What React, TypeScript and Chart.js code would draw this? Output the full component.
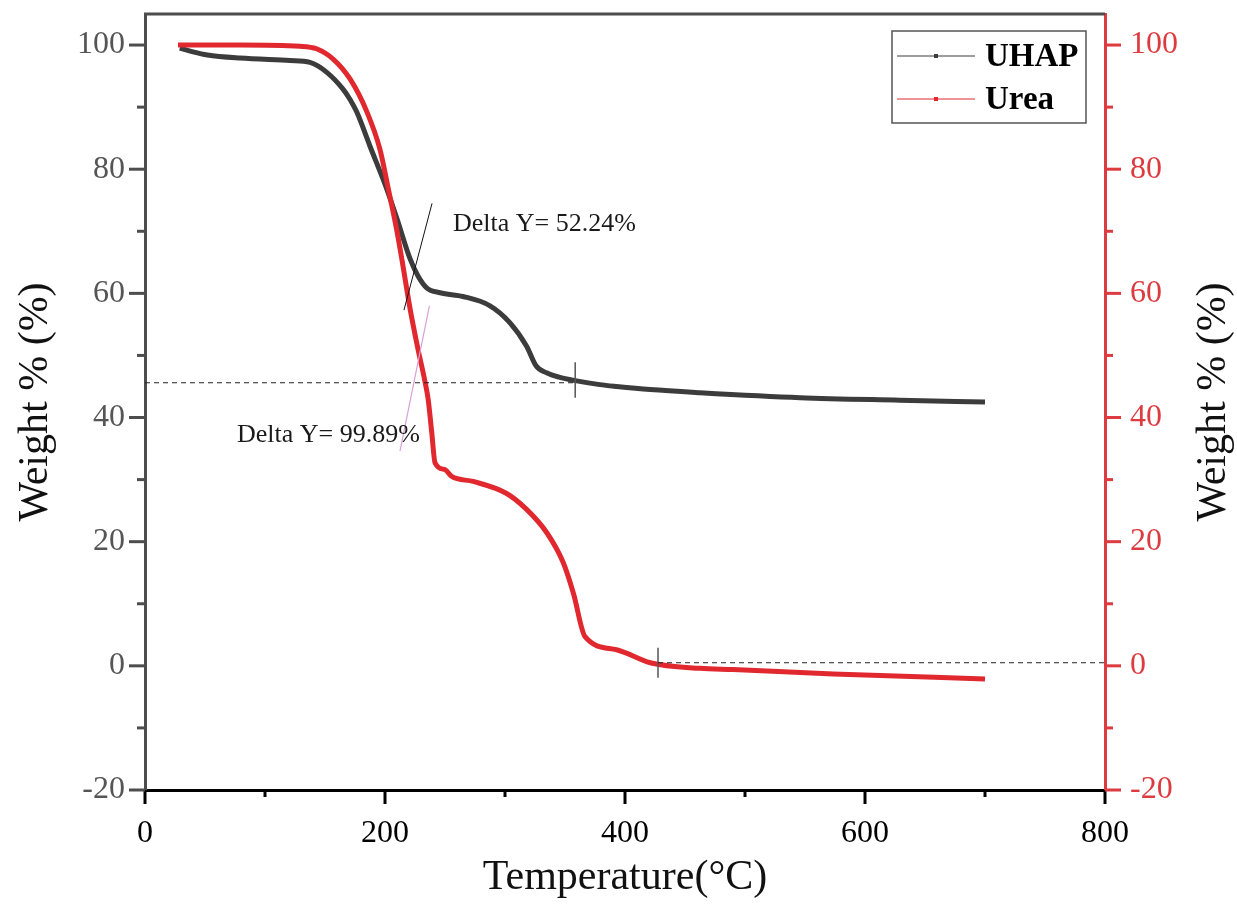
import React, { useEffect, useRef } from "react";
import { Chart, registerables } from "chart.js";
Chart.register(...registerables);

// ---- data ----
const uhapTemp = [29, 40, 52, 79, 121, 137.5, 151.5, 165, 171, 176.5, 187.5, 201.5, 210, 221, 227.5, 234.7, 246, 265, 287.5, 304, 318, 326, 334.7, 345, 359.7, 379, 393, 421, 462.5, 546, 629, 700];
const uhapWeight = [99.5, 98.9, 98.4, 97.9, 97.5, 97.2, 95.6, 92.9, 91.2, 89.2, 83.7, 76.8, 72, 65.5, 62.8, 60.9, 60.1, 59.5, 58, 55.3, 51.5, 48.3, 47.2, 46.5, 45.9, 45.3, 45.0, 44.5, 44.0, 43.2, 42.8, 42.5];
const ureaTemp = [27.5, 79, 129, 143, 157, 171, 185, 195.8, 202.8, 209.7, 215, 221, 227.5, 233, 236, 239, 241.7, 250, 255.6, 273.6, 301, 318, 335, 348.6, 357, 366.7, 393, 421, 462.5, 490, 573.6, 700];
const ureaWeight = [100, 100, 99.8, 99.4, 97.7, 94.5, 89.2, 83.2, 76.8, 70.3, 64.4, 57.4, 51, 46.1, 42.9, 37.5, 32.7, 31.6, 30.5, 29.7, 27.8, 25.2, 21.4, 16.6, 11.7, 4.7, 2.6, 0.5, -0.4, -0.6, -1.3, -2.1];

const seriesNames = ["UHAP", "Urea"];
const xTicks = [0, 200, 400, 600, 800];
const xMinorTicks = [100, 300, 500, 700];
const yTicks = [-20, 0, 20, 40, 60, 80, 100];
const yMinorTicks = [-10, 10, 30, 50, 70, 90];
const xTitle = "Temperature(\u00B0C)";
const yTitle = "Weight % (%)";

// annotation geometry (data coordinates)
const uhapBaseT = [0, 358.5];
const uhapBaseW = [45.6, 45.6];
const uhapMarkT = [358.5, 358.5];
const uhapMarkW = [48.9, 43.2];
const ureaBaseT = [427.5, 800];
const ureaBaseW = [0.5, 0.5];
const ureaMarkT = [427.5, 427.5];
const ureaMarkW = [2.9, -1.9];
const uhapTanT = [215.8, 239.2];
const uhapTanW = [57.3, 74.5];
const ureaTanT = [212.5, 237];
const ureaTanW = [34.6, 58];
const deltaLabels = ["Delta Y= 52.24%", "Delta Y= 99.89%"];
const deltaLabelT = [256.7, 76.7];
const deltaLabelW = [70, 36];

const SERIF = "'Liberation Serif', 'Times New Roman', serif";
const GRAY = "#3c3c3c";
const AXIS_GRAY = "#4d4d4d";
const RED = "#e0282e";
const AXIS_RED = "#dd3b40";

const pts = (xs: number[], ys: number[]) => xs.map((x, i) => ({ x, y: ys[i] }));

const overlay = {
  id: "overlay",
  afterDraw(chart: any) {
    const ctx = chart.ctx;
    const { left, right, top, bottom } = chart.chartArea;
    const x = chart.scales.x;
    const y = chart.scales.y;
    const y2 = chart.scales.y2;
    ctx.save();
    // top border
    ctx.strokeStyle = AXIS_GRAY;
    ctx.lineWidth = 3;
    ctx.beginPath();
    ctx.moveTo(left - 1, top);
    ctx.lineTo(right, top);
    ctx.stroke();
    // ticks
    ctx.lineWidth = 3;
    ctx.strokeStyle = "#000";
    xTicks.forEach((v) => {
      const px = x.getPixelForValue(v);
      ctx.beginPath(); ctx.moveTo(px, bottom); ctx.lineTo(px, bottom + 14); ctx.stroke();
    });
    xMinorTicks.forEach((v) => {
      const px = x.getPixelForValue(v);
      ctx.beginPath(); ctx.moveTo(px, bottom); ctx.lineTo(px, bottom + 7); ctx.stroke();
    });
    ctx.strokeStyle = AXIS_GRAY;
    yTicks.forEach((v) => {
      const py = y.getPixelForValue(v);
      ctx.beginPath(); ctx.moveTo(left, py); ctx.lineTo(left - 16, py); ctx.stroke();
    });
    yMinorTicks.forEach((v) => {
      const py = y.getPixelForValue(v);
      ctx.beginPath(); ctx.moveTo(left, py); ctx.lineTo(left - 8, py); ctx.stroke();
    });
    ctx.strokeStyle = AXIS_RED;
    yTicks.forEach((v) => {
      const py = y2.getPixelForValue(v);
      ctx.beginPath(); ctx.moveTo(right, py); ctx.lineTo(right + 16, py); ctx.stroke();
    });
    yMinorTicks.forEach((v) => {
      const py = y2.getPixelForValue(v);
      ctx.beginPath(); ctx.moveTo(right, py); ctx.lineTo(right + 8, py); ctx.stroke();
    });
    // axis titles
    ctx.fillStyle = "#111";
    ctx.font = `42px ${SERIF}`;
    ctx.textAlign = "center";
    ctx.textBaseline = "middle";
    ctx.fillText(xTitle, (left + right) / 2, 878);
    ctx.save();
    ctx.translate(36, 402);
    ctx.rotate(-Math.PI / 2);
    ctx.fillText(yTitle, 0, 0);
    ctx.restore();
    ctx.save();
    ctx.translate(1214, 402);
    ctx.rotate(-Math.PI / 2);
    ctx.fillText(yTitle, 0, 0);
    ctx.restore();
    // delta labels
    ctx.font = `26px ${SERIF}`;
    ctx.textAlign = "left";
    ctx.textBaseline = "alphabetic";
    ctx.fillStyle = "#1a1a1a";
    deltaLabels.forEach((t, i) => {
      ctx.fillText(t, x.getPixelForValue(deltaLabelT[i]), y.getPixelForValue(deltaLabelW[i]));
    });
    // legend
    const bx = 892, by = 31, bw = 194, bh = 92;
    ctx.fillStyle = "#fff";
    ctx.fillRect(bx, by, bw, bh);
    ctx.strokeStyle = "#555";
    ctx.lineWidth = 1.5;
    ctx.strokeRect(bx, by, bw, bh);
    const colors = [GRAY, RED];
    const rows = [56, 99];
    ctx.font = `bold 33px ${SERIF}`;
    ctx.textBaseline = "middle";
    seriesNames.forEach((name, i) => {
      ctx.strokeStyle = colors[i];
      ctx.lineWidth = 1;
      ctx.beginPath(); ctx.moveTo(897, rows[i]); ctx.lineTo(975, rows[i]); ctx.stroke();
      ctx.fillStyle = colors[i];
      ctx.fillRect(934, rows[i] - 2, 4, 4);
      ctx.fillStyle = "#000";
      ctx.fillText(name, 985, rows[i] + 1);
    });
    ctx.restore();
  },
};

const zeroPad = (s: any) => {
  s.paddingTop = 0;
  s.paddingBottom = 0;
  s.paddingLeft = 0;
  s.paddingRight = 0;
};

export default function App() {
  const ref = useRef<HTMLCanvasElement>(null);
  useEffect(() => {
    if (!ref.current) return;
    const annot = (data: any[], color: string, width: number, dash: number[], axis: string) => ({
      data,
      borderColor: color,
      borderWidth: width,
      borderDash: dash,
      pointRadius: 0,
      tension: 0,
      fill: false,
      yAxisID: axis,
      order: -1,
    });
    const chart = new Chart(ref.current, {
      type: "line",
      data: {
        datasets: [
          {
            label: seriesNames[1],
            data: pts(ureaTemp, ureaWeight),
            borderColor: RED,
            borderWidth: 5,
            pointRadius: 0,
            cubicInterpolationMode: "monotone",
            yAxisID: "y2",
            order: 0,
          },
          {
            label: seriesNames[0],
            data: pts(uhapTemp, uhapWeight),
            borderColor: GRAY,
            borderWidth: 5,
            pointRadius: 0,
            cubicInterpolationMode: "monotone",
            yAxisID: "y",
            order: 1,
          },
          annot(pts(uhapBaseT, uhapBaseW), "#222", 1, [5, 4], "y"),
          annot(pts(uhapMarkT, uhapMarkW), "#555", 1.5, [], "y"),
          annot(pts(ureaBaseT, ureaBaseW), "#222", 1, [5, 4], "y2"),
          annot(pts(ureaMarkT, ureaMarkW), "#555", 1.5, [], "y2"),
          annot(pts(uhapTanT, uhapTanW), "#111", 1, [], "y"),
          annot(pts(ureaTanT, ureaTanW), "#d9a0d6", 1.2, [], "y2"),
        ] as any,
      },
      options: {
        animation: false,
        responsive: false,
        devicePixelRatio: 1,
        layout: { padding: { top: 14, left: 0, right: 0, bottom: 0 } },
        plugins: { legend: { display: false }, tooltip: { enabled: false } },
        scales: {
          x: {
            type: "linear",
            min: 0,
            max: 800,
            afterBuildTicks: (s: any) => { s.ticks = xTicks.map((v) => ({ value: v })); },
            afterFit: (s: any) => { s.height = 127; zeroPad(s); },
            grid: { display: false, drawTicks: false },
            border: { display: true, color: "#000", width: 3 },
            ticks: { color: "#000", padding: 24, font: { family: SERIF, size: 32 }, maxRotation: 0 },
          },
          y: {
            type: "linear",
            position: "left",
            min: -20,
            max: 105,
            afterBuildTicks: (s: any) => { s.ticks = yTicks.map((v) => ({ value: v })); },
            afterFit: (s: any) => { s.width = 145; zeroPad(s); },
            grid: { display: false, drawTicks: false },
            border: { display: true, color: AXIS_GRAY, width: 3 },
            ticks: { color: "#555", padding: 20, font: { family: SERIF, size: 32 } },
          },
          y2: {
            type: "linear",
            position: "right",
            min: -20,
            max: 105,
            afterBuildTicks: (s: any) => { s.ticks = yTicks.map((v) => ({ value: v })); },
            afterFit: (s: any) => { s.width = 132; zeroPad(s); },
            grid: { display: false, drawTicks: false },
            border: { display: true, color: AXIS_RED, width: 3 },
            ticks: { color: AXIS_RED, padding: 25, font: { family: SERIF, size: 32 } },
          },
        },
      } as any,
      plugins: [overlay],
    });
    return () => chart.destroy();
  }, []);
  return (
    <div style={{ position: "fixed", left: 0, top: 0, width: 1237, height: 917, background: "#fff" }}>
      <canvas ref={ref} width={1237} height={917} style={{ width: 1237, height: 917 }} />
    </div>
  );
}
